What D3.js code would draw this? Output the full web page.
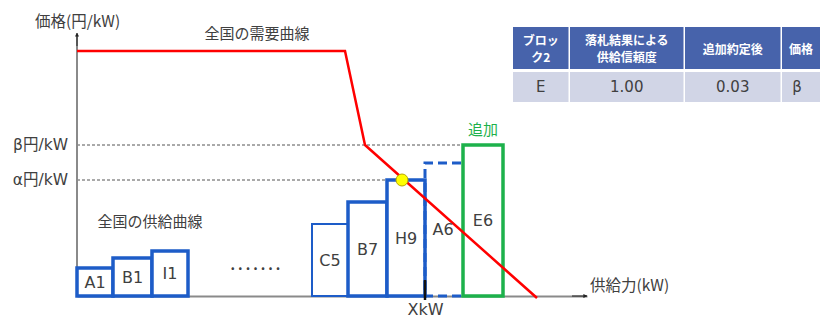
<!DOCTYPE html>
<html>
<head>
<meta charset="utf-8">
<script src="https://cdn.jsdelivr.net/npm/d3@7"></script>
<style>
  body { margin: 0; background: #fff; }
  svg text { font-family: "Noto Sans CJK JP", "Noto Sans", sans-serif; fill: #404040; }
</style>
</head>
<body>
<div id="chart"></div>
<script>
// supply blocks (start / width in kW units, price in 円/kW units)
var blockNames  = ["A1", "B1", "I1", "C5", "B7", "H9", "A6", "E6"];
var blockStart  = [0, 36, 75, 235, 271, 310, 348, 386];
var blockWidth  = [36, 39, 36, 36, 39, 38, 36, 40];
var blockPrice  = [28, 38, 45, 72, 94, 116, 133, 151];
var blockKind   = ["thick", "thick", "thick", "thin", "thick", "thick", "dashed", "added"];

// demand curve points [kW, price]
var demandX = [0, 268, 288, 460];
var demandY = [245, 245, 151, -2];

var alphaPrice = 116, betaPrice = 151;
var priceLabels = ["α円/kW", "β円/kW"];
var xMark = 348, xMarkLabel = "XkW";
var crossPoint = [325, 116];

// table
var tableHeaders = [["ブロッ", "ク2"], ["落札結果による", "供給信頼度"], ["追加約定後"], ["価格"]];
var tableValues  = ["E", "1.00", "0.03", "β"];
var tableColW    = [57, 115, 97, 60];

var width = 820, height = 319;
var svg = d3.select("#chart").append("svg")
    .attr("width", width).attr("height", height);

var x = d3.scaleLinear().domain([0, 510]).range([77, 587]);
var y = d3.scaleLinear().domain([0, 263]).range([296, 33]);

var defs = svg.append("defs");
defs.append("marker").attr("id", "arrow")
    .attr("viewBox", "0 0 10 10").attr("refX", 9).attr("refY", 5)
    .attr("markerWidth", 4).attr("markerHeight", 4).attr("orient", "auto")
  .append("path").attr("d", "M0,0L10,5L0,10z").attr("fill", "#222");

// dashed guide lines
svg.append("line")
    .attr("x1", x(0)).attr("x2", x(blockStart[7]))
    .attr("y1", y(betaPrice)).attr("y2", y(betaPrice))
    .attr("stroke", "#555").attr("stroke-width", 1).attr("stroke-dasharray", "3 2");
svg.append("line")
    .attr("x1", x(0)).attr("x2", x(blockStart[5]))
    .attr("y1", y(alphaPrice)).attr("y2", y(alphaPrice))
    .attr("stroke", "#555").attr("stroke-width", 1).attr("stroke-dasharray", "3 2");

// axes
var yAxis = svg.append("g")
    .attr("transform", "translate(" + x(0) + ",0)")
    .call(d3.axisLeft(y)
        .tickValues([alphaPrice, betaPrice])
        .tickFormat(function(d, i) { return priceLabels[i]; })
        .tickSize(0).tickSizeOuter(0).tickPadding(9));
yAxis.select(".domain").attr("stroke", "#8a8a8a").attr("stroke-width", 2)
    .attr("d", "M0," + y(0) + "V" + (y(263) + 2));
yAxis.selectAll("text").attr("font-size", 15.5).style("font-family", "'DejaVu Sans', 'Noto Sans CJK JP'").attr("fill", "#404040");
svg.append("line").attr("x1", x(0)).attr("x2", x(0)).attr("y1", y(250)).attr("y2", y(263))
    .attr("stroke", "#222").attr("stroke-width", 1).attr("marker-end", "url(#arrow)");

var xAxis = svg.append("g")
    .attr("transform", "translate(0," + y(0) + ")")
    .call(d3.axisBottom(x)
        .tickValues([xMark])
        .tickFormat(function() { return xMarkLabel; })
        .tickSize(0).tickSizeOuter(0).tickPadding(8));
xAxis.select(".domain").attr("stroke", "#8a8a8a").attr("stroke-width", 2);
xAxis.selectAll("text").attr("font-size", 16).style("font-family", "'DejaVu Sans', sans-serif").attr("fill", "#404040");
svg.append("line").attr("x1", x(495)).attr("x2", x(510)).attr("y1", y(0)).attr("y2", y(0))
    .attr("stroke", "#222").attr("stroke-width", 1).attr("marker-end", "url(#arrow)");

// supply blocks
var blocks = blockNames.map(function(n, i) {
  return { name: n, x0: blockStart[i], w: blockWidth[i], p: blockPrice[i], kind: blockKind[i] };
});

var solid = blocks.filter(function(d) { return d.kind !== "dashed"; });
svg.selectAll("rect.block").data(solid).enter().append("rect")
    .attr("class", "block")
    .attr("x", function(d) { return x(d.x0); })
    .attr("y", function(d) { return y(d.p); })
    .attr("width", function(d) { return x(d.x0 + d.w) - x(d.x0); })
    .attr("height", function(d) { return y(0) - y(d.p); })
    .attr("fill", "#fff")
    .attr("stroke", function(d) { return d.kind === "added" ? "#1db14b" : "#1d5cc8"; })
    .attr("stroke-width", function(d) { return d.kind === "thin" ? 2 : 3.5; });

var dashed = blocks.filter(function(d) { return d.kind === "dashed"; });
svg.selectAll("path.dashblock").data(dashed).enter().append("path")
    .attr("class", "dashblock")
    .attr("d", function(d) {
      return "M" + x(d.x0 + d.w) + "," + y(0) + "H" + x(d.x0) + "V" + y(d.p) + "H" + x(d.x0 + d.w);
    })
    .attr("fill", "none").attr("stroke", "#1d5cc8").attr("stroke-width", 3)
    .attr("stroke-dasharray", "9 5");

// demand curve
var demand = demandX.map(function(v, i) { return [v, demandY[i]]; });
svg.append("path").datum(demand)
    .attr("d", d3.line().x(function(d) { return x(d[0]); }).y(function(d) { return y(d[1]); }))
    .attr("fill", "none").attr("stroke", "#ff0000").attr("stroke-width", 2.5);

// block labels
svg.selectAll("text.blabel").data(blocks).enter().append("text")
    .attr("class", "blabel")
    .attr("x", function(d) { return x(d.x0 + d.w / 2); })
    .attr("y", function(d) { return y(d.p / 2); })
    .attr("text-anchor", "middle").attr("dominant-baseline", "central")
    .attr("font-size", 16)
    .style("font-family", "'DejaVu Sans', sans-serif")
    .text(function(d) { return d.name; });

// equilibrium point
svg.append("circle")
    .attr("cx", x(crossPoint[0])).attr("cy", y(crossPoint[1])).attr("r", 6)
    .attr("fill", "#ffff00").attr("stroke", "#b8a800").attr("stroke-width", 1);

// X mark tick
svg.append("line")
    .attr("x1", x(xMark)).attr("x2", x(xMark)).attr("y1", y(0) - 16).attr("y2", y(0) + 4)
    .attr("stroke", "#111").attr("stroke-width", 2.5);

// annotations
svg.append("text").attr("x", 35).attr("y", 27).attr("font-size", 15.5).text("価格(円/kW)");
svg.append("text").attr("x", 257).attr("y", 39).attr("font-size", 15)
    .attr("text-anchor", "middle").text("全国の需要曲線");
svg.append("text").attr("x", 150).attr("y", 227).attr("font-size", 15)
    .attr("text-anchor", "middle").text("全国の供給曲線");
svg.append("text").attr("x", x(blockStart[7] + blockWidth[7] / 2)).attr("y", 135)
    .attr("font-size", 15).attr("text-anchor", "middle").style("fill", "#1db14b").text("追加");
svg.append("text").attr("x", 590).attr("y", 291).attr("font-size", 15.5).text("供給力(kW)");
svg.append("text").attr("x", 257).attr("y", 270).attr("font-size", 14)
    .attr("text-anchor", "middle").attr("letter-spacing", 3).style("font-weight", "bold")
    .text(".......");

// table
var tx0 = 513, headTop = 27, headH = 42, rowTop = 72, rowH = 30;
var colX = [0].concat(Array.from(d3.cumsum(tableColW))).map(function(v) { return tx0 + v; });
var table = svg.append("g");
tableHeaders.forEach(function(h, i) {
  table.append("rect").attr("x", colX[i]).attr("y", headTop)
      .attr("width", tableColW[i] - 1.5).attr("height", headH).attr("fill", "#4763ab");
  table.append("rect").attr("x", colX[i]).attr("y", rowTop)
      .attr("width", tableColW[i] - 1.5).attr("height", rowH).attr("fill", "#d1d5e6");
  var cx = colX[i] + (tableColW[i] - 1.5) / 2;
  h.forEach(function(line, j) {
    table.append("text")
        .attr("x", i === 3 ? colX[i] + 7 : cx)
        .attr("text-anchor", i === 3 ? "start" : "middle")
        .attr("y", headTop + headH / 2 + (j - (h.length - 1) / 2) * 17)
        .attr("dominant-baseline", "central")
        .attr("font-size", 12)
        .style("fill", "#fff").style("font-weight", "bold")
        .text(line);
  });
  table.append("text").attr("x", i === 3 ? colX[i] + 15 : cx).attr("y", rowTop + rowH / 2)
      .attr("text-anchor", "middle").attr("dominant-baseline", "central")
      .attr("font-size", 15).style("font-family", "'DejaVu Sans', sans-serif")
      .text(tableValues[i]);
});
</script>
</body>
</html>
